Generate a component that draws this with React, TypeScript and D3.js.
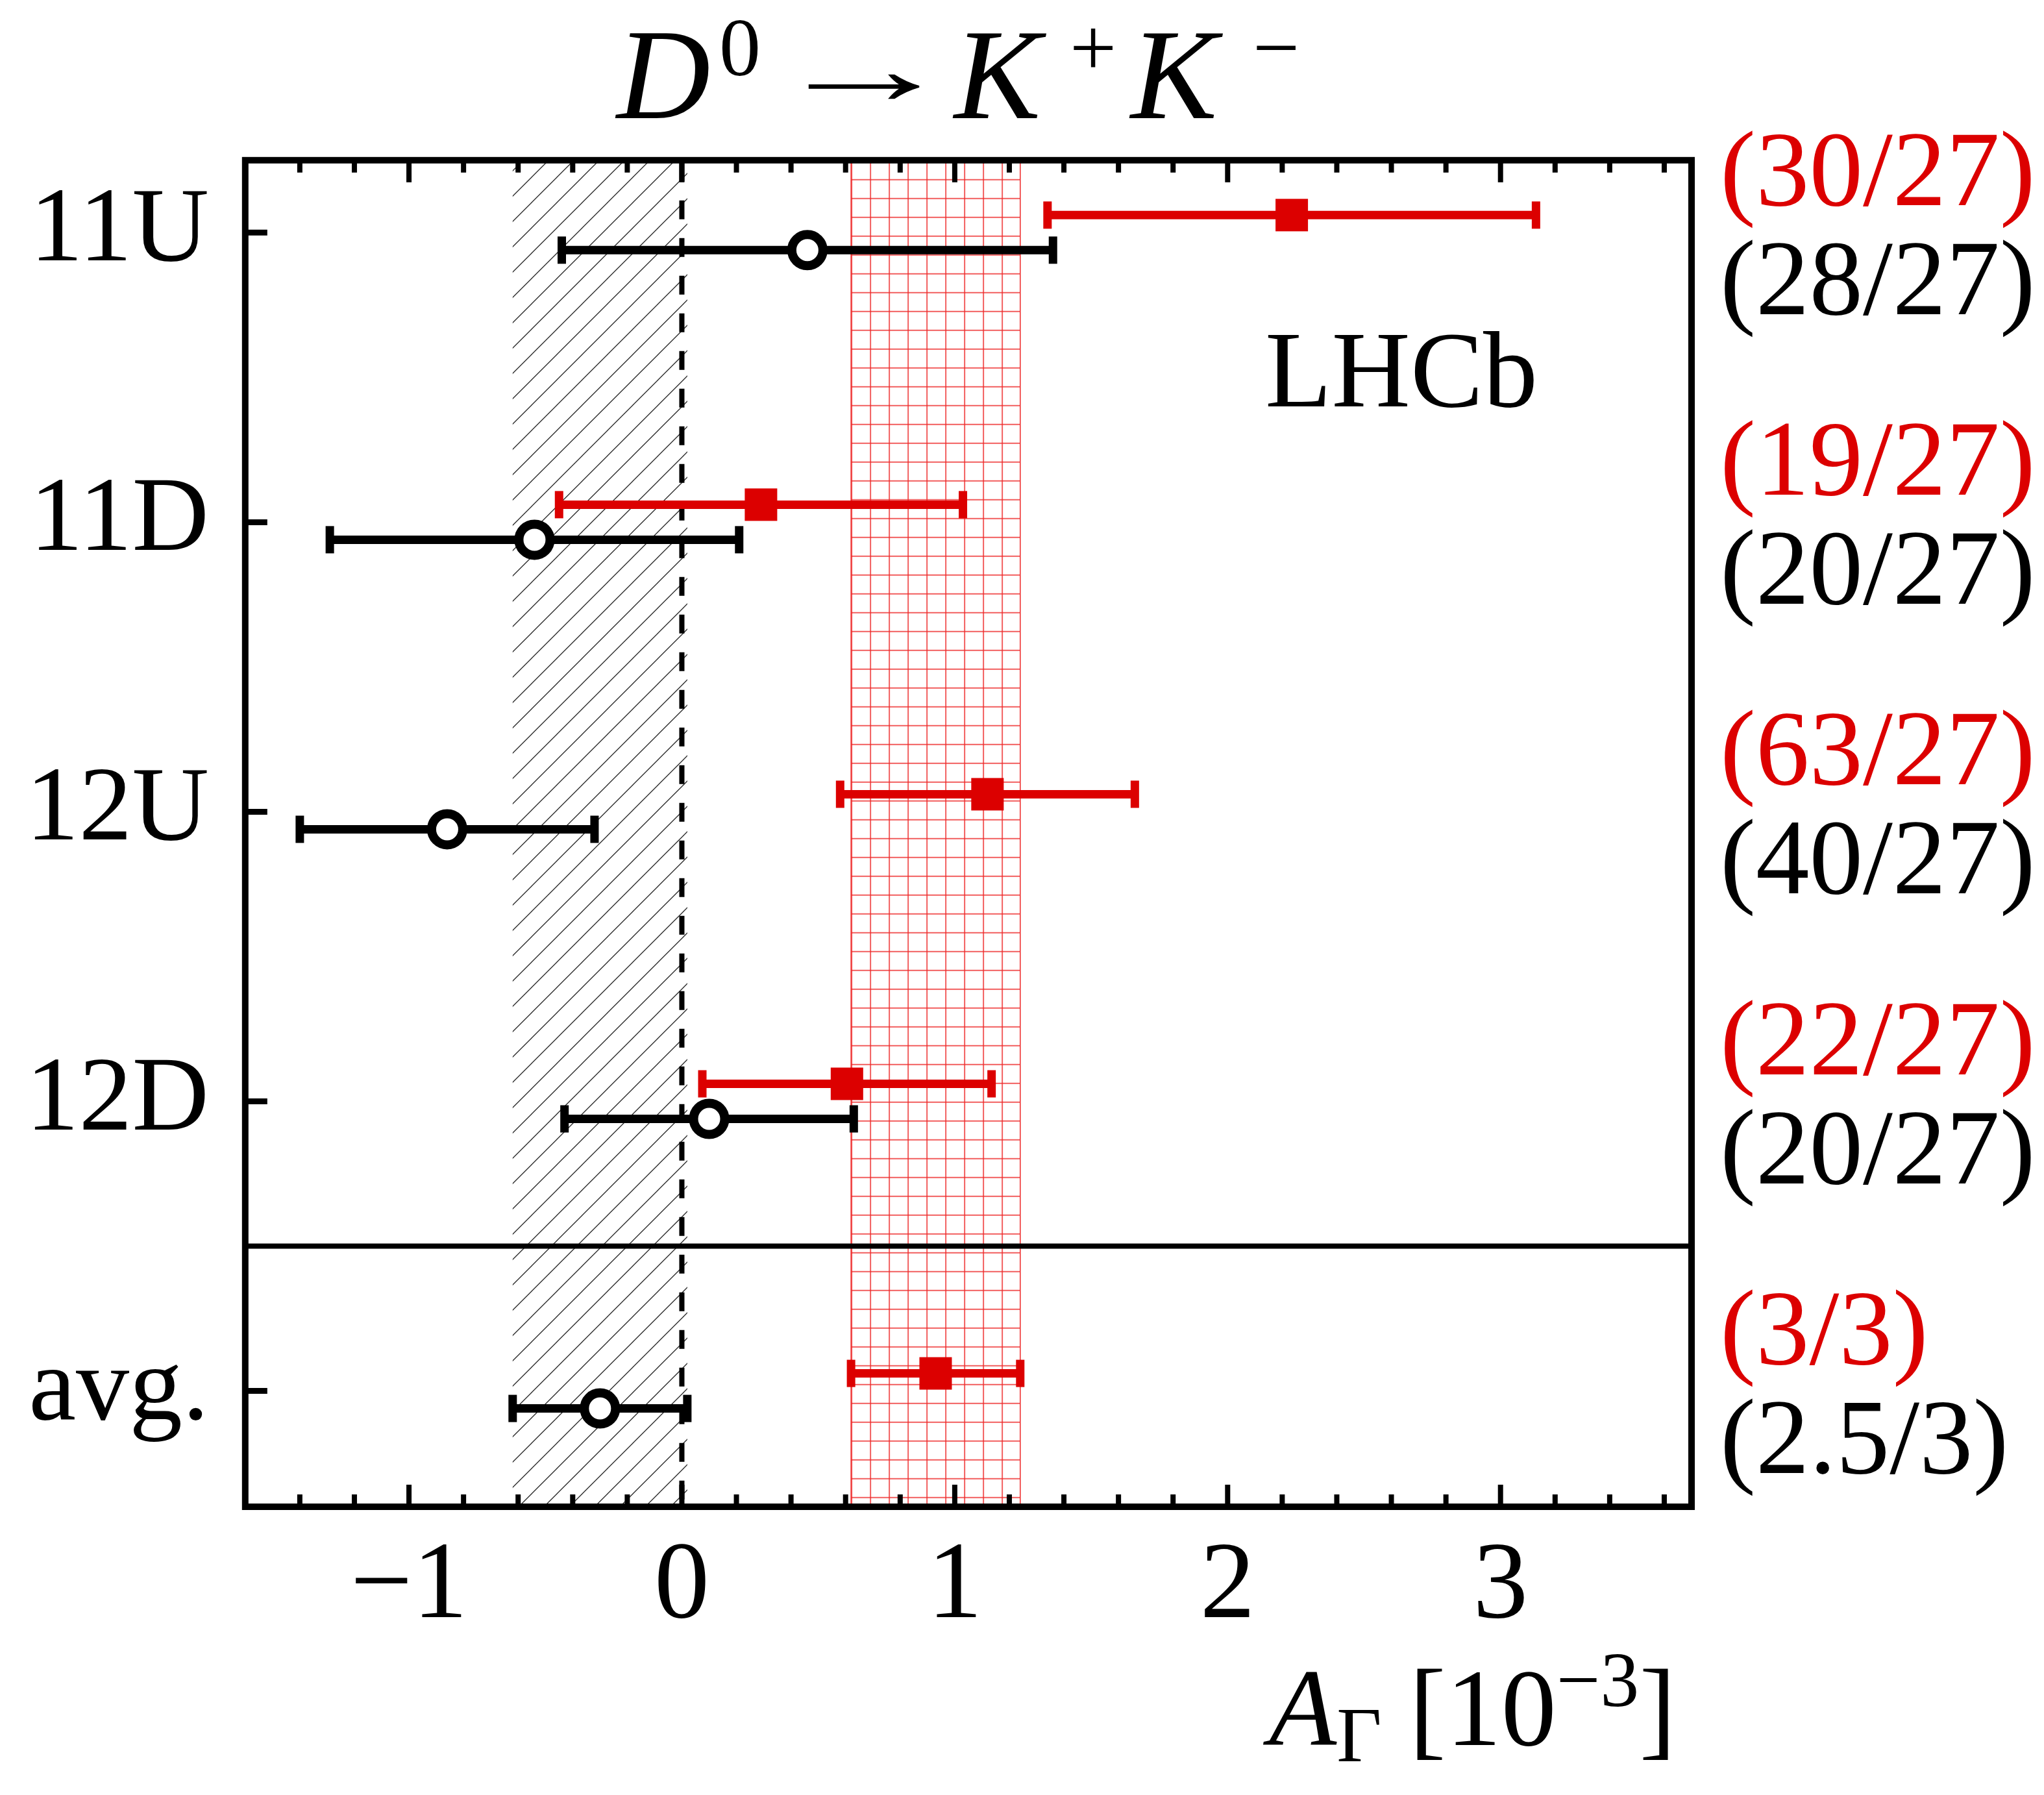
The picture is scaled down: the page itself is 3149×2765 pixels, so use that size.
import React, { useEffect, useRef } from 'react';
import * as d3 from 'd3';

// per-period results, open black circles and filled red squares
const categories = ['11U', '11D', '12U', '12D', 'avg.'];
const blackValues = [0.46, -0.54, -0.86, 0.1, -0.3];
const blackErrors = [0.9, 0.75, 0.54, 0.53, 0.32];
const redValues = [2.235, 0.29, 1.12, 0.605, 0.93];
const redErrors = [0.895, 0.74, 0.54, 0.53, 0.31];
const redChi2 = ['(30/27)', '(19/27)', '(63/27)', '(22/27)', '(3/3)'];
const blackChi2 = ['(28/27)', '(20/27)', '(40/27)', '(20/27)', '(2.5/3)'];
const xTicks = [-1, 0, 1, 2, 3];
const xTickLabels = ['\u22121', '0', '1', '2', '3'];

const W = 3149;
const H = 2765;
const left = 377.8;
const right = 2606;
const top = 246.8;
const bottom = 2321;
const RED = '#dc0000';
const FONT = "'Liberation Serif', 'DejaVu Serif', serif";

const App: React.FC = () => {
  const svgRef = useRef<SVGSVGElement>(null);

  useEffect(() => {
    if (!svgRef.current) return;

    const x = d3.scaleLinear().domain([-1.6, 3.7]).range([left, right]);
    const y = d3.scaleLinear().domain([-0.25, 4.4]).range([top, bottom]);
    const avg = categories.length - 1;

    const svg = d3.select(svgRef.current)
      .attr('width', W)
      .attr('height', H)
      .html('');

    svg.append('rect').attr('width', W).attr('height', H).attr('fill', '#fff');

    const defs = svg.append('defs');
    const hatch = defs.append('pattern')
      .attr('id', 'hatch')
      .attr('patternUnits', 'userSpaceOnUse')
      .attr('width', 39)
      .attr('height', 39);
    hatch.append('path')
      .attr('d', 'M-5,5 L5,-5 M0,39 L39,0 M34,44 L44,34')
      .attr('stroke', '#222')
      .attr('stroke-width', 1.3);

    const redLo = redValues[avg] - redErrors[avg];
    const redHi = redValues[avg] + redErrors[avg];
    const blackLo = blackValues[avg] - blackErrors[avg];
    const blackHi = blackValues[avg] + blackErrors[avg];

    const grid = defs.append('pattern')
      .attr('id', 'grid')
      .attr('patternUnits', 'userSpaceOnUse')
      .attr('x', x(redLo))
      .attr('y', top)
      .attr('width', 29)
      .attr('height', 29);
    grid.append('path')
      .attr('d', 'M1,0 V29 M0,1 H29')
      .attr('stroke', '#ee2a2a')
      .attr('stroke-width', 1.5);

    // average bands
    svg.append('rect')
      .attr('x', x(blackLo)).attr('y', top)
      .attr('width', x(blackHi) - x(blackLo)).attr('height', bottom - top)
      .attr('fill', 'url(#hatch)');

    svg.append('rect')
      .attr('x', x(redLo)).attr('y', top)
      .attr('width', x(redHi) - x(redLo)).attr('height', bottom - top)
      .attr('fill', 'url(#grid)');
    [redLo, redHi].forEach(v => {
      svg.append('line')
        .attr('x1', x(v)).attr('x2', x(v)).attr('y1', top).attr('y2', bottom)
        .attr('stroke', '#ee2a2a').attr('stroke-width', 1.5);
    });

    // zero line and separator
    svg.append('line')
      .attr('x1', x(0)).attr('x2', x(0)).attr('y1', top + 4).attr('y2', bottom)
      .attr('stroke', '#000').attr('stroke-width', 8)
      .attr('stroke-dasharray', '29 29');

    svg.append('line')
      .attr('x1', left).attr('x2', right)
      .attr('y1', y(avg - 0.5)).attr('y2', y(avg - 0.5))
      .attr('stroke', '#000').attr('stroke-width', 8);

    // error bars
    const drawSeries = (values: number[], errors: number[], color: string, dy: number, square: boolean) => {
      const g = svg.append('g');
      values.forEach((v, i) => {
        const yy = y(i) + dy;
        const x1 = x(v - errors[i]);
        const x2 = x(v + errors[i]);
        g.append('line')
          .attr('x1', x1).attr('x2', x2).attr('y1', yy).attr('y2', yy)
          .attr('stroke', color).attr('stroke-width', 13);
        [x1, x2].forEach(cx => {
          g.append('line')
            .attr('x1', cx).attr('x2', cx).attr('y1', yy - 21).attr('y2', yy + 21)
            .attr('stroke', color).attr('stroke-width', 13);
        });
        if (square) {
          g.append('rect')
            .attr('x', x(v) - 25).attr('y', yy - 25)
            .attr('width', 50).attr('height', 50)
            .attr('fill', color);
        } else {
          g.append('circle')
            .attr('cx', x(v)).attr('cy', yy).attr('r', 24)
            .attr('fill', '#fff').attr('stroke', color).attr('stroke-width', 14);
        }
      });
    };
    drawSeries(blackValues, blackErrors, '#000', 27, false);
    drawSeries(redValues, redErrors, RED, -27, true);

    // frame and ticks
    svg.append('rect')
      .attr('x', left).attr('y', top)
      .attr('width', right - left).attr('height', bottom - top)
      .attr('fill', 'none').attr('stroke', '#000').attr('stroke-width', 10);

    const minor = d3.range(-7, 19).map(k => k * 0.2);
    minor.forEach(v => {
      const major = Math.abs(v - Math.round(v)) < 1e-6;
      const len = major ? 34 : 19;
      svg.append('line')
        .attr('x1', x(v)).attr('x2', x(v)).attr('y1', bottom).attr('y2', bottom - len)
        .attr('stroke', '#000').attr('stroke-width', 8);
      svg.append('line')
        .attr('x1', x(v)).attr('x2', x(v)).attr('y1', top).attr('y2', top + len)
        .attr('stroke', '#000').attr('stroke-width', 8);
    });

    categories.forEach((c, i) => {
      svg.append('line')
        .attr('x1', left).attr('x2', left + 34).attr('y1', y(i)).attr('y2', y(i))
        .attr('stroke', '#000').attr('stroke-width', 9);
    });

    // texts
    const txt = svg.append('g').attr('font-family', FONT).attr('fill', '#000');

    txt.selectAll('.xlab')
      .data(xTicks)
      .enter().append('text')
      .attr('x', d => x(d))
      .attr('y', 2491)
      .attr('text-anchor', 'middle')
      .attr('font-size', 170)
      .text((d, i) => xTickLabels[i]);

    txt.selectAll('.ylab')
      .data(categories)
      .enter().append('text')
      .attr('x', 322)
      .attr('y', (d, i) => y(i) + 43)
      .attr('text-anchor', 'end')
      .attr('font-size', 164)
      .text(d => d);

    txt.selectAll('.chiRed')
      .data(redChi2)
      .enter().append('text')
      .attr('x', 2650)
      .attr('y', (d, i) => y(i) - 42)
      .attr('font-size', 165)
      .attr('fill', RED)
      .text(d => d);

    txt.selectAll('.chiBlack')
      .data(blackChi2)
      .enter().append('text')
      .attr('x', 2650)
      .attr('y', (d, i) => y(i) + 126)
      .attr('font-size', 165)
      .text(d => d);

    txt.append('text')
      .attr('x', 2159).attr('y', 626)
      .attr('text-anchor', 'middle')
      .attr('font-size', 168)
      .text('LHCb');

    // title D0 -> K+K-
    const title = txt.append('text').attr('y', 182).attr('font-size', 200);
    title.append('tspan').attr('x', 950).attr('font-style', 'italic').text('D');
    title.append('tspan').attr('x', 1108).attr('y', 116).attr('font-size', 128).text('0');
    title.append('tspan').attr('x', 1470).attr('y', 182).attr('font-style', 'italic').text('K');
    title.append('tspan').attr('x', 1648).attr('y', 116).attr('font-size', 128).text('+');
    title.append('tspan').attr('x', 1742).attr('y', 182).attr('font-style', 'italic').text('K');
    title.append('tspan').attr('x', 1930).attr('y', 116).attr('font-size', 128).text('\u2212');
    txt.append('text')
      .attr('transform', 'translate(1187,160) scale(1.8,1)')
      .attr('font-size', 160)
      .text('\u2192');

    // x axis title
    const xl = txt.append('text')
      .attr('x', 2582).attr('y', 2688)
      .attr('text-anchor', 'end')
      .attr('font-size', 170);
    xl.append('tspan').attr('font-style', 'italic').text('A');
    xl.append('tspan').attr('font-size', 120).attr('dy', 25).text('\u0393');
    xl.append('tspan').attr('dy', -25).text(' [10');
    xl.append('tspan').attr('font-size', 120).attr('dy', -60).text('\u22123');
    xl.append('tspan').attr('dy', 60).text(']');
  }, []);

  return (
    <div style={{ position: 'absolute', left: 0, top: 0, background: '#fff' }}>
      <svg ref={svgRef} style={{ display: 'block' }}></svg>
    </div>
  );
};

export default App;
